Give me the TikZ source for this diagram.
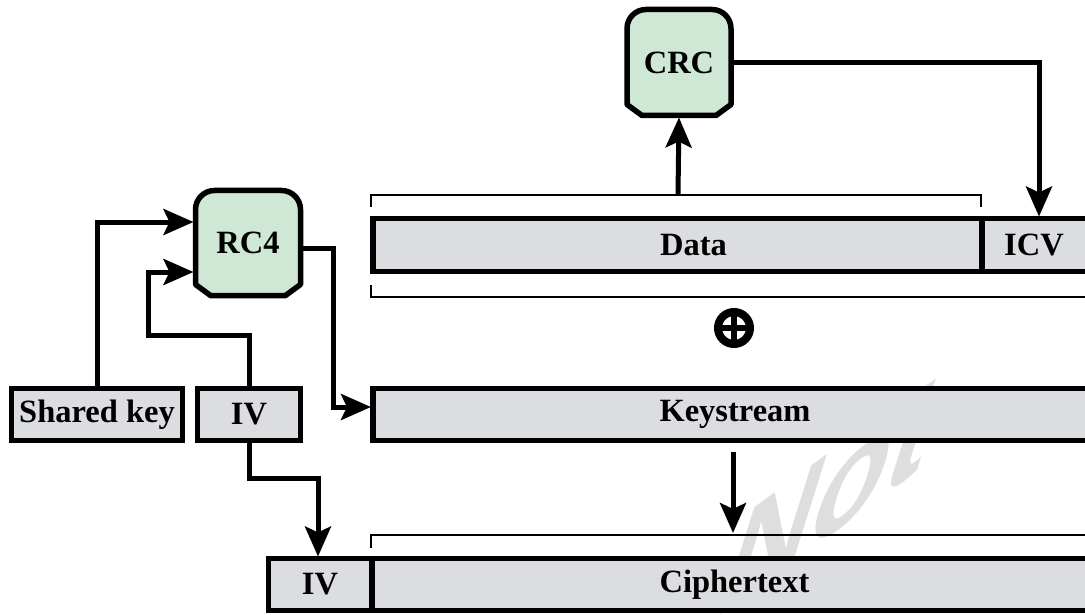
\documentclass[tikz,border=0pt]{standalone}
\usepackage{fontspec}
\setmainfont{Liberation Serif}
\setsansfont{Liberation Sans}
\usetikzlibrary{arrows.meta,backgrounds}

\definecolor{boxgray}{HTML}{DCDDE0}
\definecolor{boxgreen}{HTML}{CFE8D5}
\definecolor{markgray}{HTML}{DEDEDE}

\tikzset{
  labelfont/.style={font=\bfseries\fontsize{32.5}{38}\selectfont},
  field/.style={draw, fill=boxgray, line width=5.5pt, inner sep=0pt, outer sep=0pt, labelfont},
  unit/.style={draw=none, inner sep=0pt, outer sep=0pt, labelfont},
  unitframe/.style={draw, fill=boxgreen, line width=5.5pt, line join=round},
  flow/.style={line width=5pt, shorten >=2pt,
    -{Stealth[length=30pt, width=26pt, inset=6pt]}},
  brace/.style={line width=2.5pt},
}

% green processing block: rounded top corners, bevelled bottom corners
\newcommand\unitframe[1]{%
  \draw[unitframe]
    ([yshift=-19pt]#1.north west) to[out=90,in=180] ([xshift=19pt]#1.north west)
    -- ([xshift=-19pt]#1.north east) to[out=0,in=90] ([yshift=-19pt]#1.north east)
    -- ([yshift=11pt]#1.south east) -- ([xshift=-15pt]#1.south east)
    -- ([xshift=15pt]#1.south west) -- ([yshift=11pt]#1.south west) -- cycle;}

\begin{document}
\begin{tikzpicture}[x=1pt, y=-1pt]
\useasboundingbox (0,0) rectangle (1085,615);
\clip (0,0) rectangle (1085,615);

% faint watermark behind the fields
\begin{scope}[shift={(832,493)}, cm={0.75,0.55,0.30,0.95,(0,0)}]
  \node[transform shape, inner sep=0pt, text=markgray,
        font=\sffamily\bfseries\fontsize{165}{170}\selectfont] (mark) {Not};
\end{scope}

% processing blocks
\node[unit, minimum width=104, minimum height=106] (crc) at (679,62.5) {CRC};
\node[unit, minimum width=105, minimum height=105] (rc4) at (248,243) {RC4};
\begin{scope}[on background layer]
  \unitframe{crc}
  \unitframe{rc4}
\end{scope}

% plaintext frame
\node[field, minimum width=609, minimum height=53] (data) at (677.5,245) {\hspace{32pt}Data};
\node[field, minimum width=108, minimum height=53] (icv) at (1036,245) {\hspace{-4pt}ICV};

% key material
\node[field, minimum width=171, minimum height=52] (skey) at (97,414.5) {Shared key};
\node[field, minimum width=103, minimum height=52] (iv) at (249,414.5) {IV};
\node[field, minimum width=724, minimum height=52] (keys) at (735,414.5) {Keystream};

% output frame
\node[field, minimum width=103.5, minimum height=52] (civ) at (320,584.5) {IV};
\node[field, minimum width=725, minimum height=52] (ctext) at (734.5,584.5) {Ciphertext};

% XOR sign
\node[circle, draw, line width=8pt, minimum size=32pt, inner sep=0pt] (xor) at (734,328) {};
\draw[line width=6pt] (xor.north) -- (xor.south);
\draw[line width=6pt] (xor.west) -- (xor.east);

% brackets marking the operand spans
\draw[brace] (371,207) |- (981,195) -- (981,207);
\draw[brace] (371,285) |- (1100,297);
\draw[brace] (371,548) |- (1100,535);

% connection points
\coordinate (dtop) at (678,195);
\coordinate (ivbend) at (148,335);
\coordinate (rcbend) at (333,248);
\coordinate (ivdrop) at (318,478);
\coordinate (kdown) at (733,452);
\coordinate (cspan) at (733,535);

% connectors
\draw[flow] (dtop) -- (crc.south);
\draw[flow] (crc.east) -| ([xshift=3pt]icv.north);
\draw[flow] (skey.north) |- ([yshift=21pt]rc4.west);
\draw[flow] (iv.north) |- (ivbend) |- ([yshift=-29pt]rc4.west);
\draw[flow] ([yshift=-5pt]rc4.east) -- (rcbend) |- ([yshift=7.5pt]keys.west);
\draw[flow] (iv.south) |- (ivdrop) -- (ivdrop |- civ.north);
\draw[flow] (kdown) -- (cspan);
\end{tikzpicture}
\end{document}
